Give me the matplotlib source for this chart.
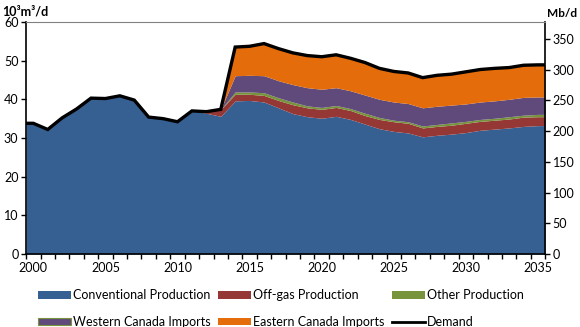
import numpy as np
import matplotlib
matplotlib.use("Agg")
import matplotlib.pyplot as plt
from matplotlib.patches import Patch
from matplotlib.lines import Line2D

plt.rcParams['font.family'] = ['Lato', 'DejaVu Sans']

years = np.arange(2000, 2036)
conventional = [33.8, 32.2, 35.2, 37.5, 40.3, 40.2, 40.9, 39.8, 35.4, 35.0, 34.2, 37.0, 36.4, 35.6,
                39.6, 39.7, 39.3, 37.8, 36.3, 35.5, 35.1, 35.6, 34.8, 33.6, 32.4, 31.7, 31.3, 30.3,
                30.7, 31.0, 31.4, 32.0, 32.3, 32.6, 33.0, 33.2]
offgas = [0]*12 + [0.4, 1.8,
          1.7, 1.6, 1.7, 1.9, 2.3, 2.3, 2.3, 2.3, 2.3, 2.2, 2.4, 2.5, 2.5, 2.3,
          2.3, 2.3, 2.4, 2.3, 2.3, 2.3, 2.4, 2.3]
other = [0]*14 + [0.6, 0.6, 0.7, 0.7, 0.7, 0.5, 0.5, 0.5, 0.5, 0.6, 0.5, 0.4, 0.4, 0.5,
                  0.5, 0.6, 0.5, 0.5, 0.5, 0.6, 0.5, 0.6]
western = [0]*14 + [4.2, 4.3, 4.4, 4.4, 4.5, 4.7, 4.7, 4.6, 4.6, 4.7, 4.7, 4.7, 4.7, 4.7,
                    4.7, 4.6, 4.5, 4.5, 4.5, 4.5, 4.6, 4.5]
eastern = [0]*14 + [7.4, 7.5, 8.3, 8.3, 8.2, 8.3, 8.4, 8.5, 8.4, 8.4, 8.0, 7.9, 7.9, 7.8,
                    8.0, 8.0, 8.3, 8.4, 8.4, 8.3, 8.3, 8.3]
demand = [33.8, 32.2, 35.2, 37.5, 40.3, 40.2, 40.9, 39.8, 35.4, 35.0, 34.2, 37.0, 36.8, 37.4,
          53.5, 53.7, 54.4, 53.1, 52.0, 51.3, 51.0, 51.5, 50.6, 49.5, 48.0, 47.2, 46.8, 45.6,
          46.2, 46.5, 47.1, 47.7, 48.0, 48.2, 48.8, 48.9]

names = ["Conventional Production", "Off-gas Production", "Other Production",
         "Western Canada Imports", "Eastern Canada Imports"]
colors = ["#376092", "#953735", "#77933C", "#604A7B", "#E46C0A"]
year_labels = [2000, 2005, 2010, 2015, 2020, 2025, 2030, 2035]
right_ticks = [0, 50, 100, 150, 200, 250, 300, 350]
BBL_PER_M3 = 6.29

# Excel-style area: extend half a category at each edge
xp = np.r_[years[0] - 0.5, years, years[-1] + 0.5]
def pad(a):
    return np.pad(np.asarray(a, float), 1, mode='edge')

fig = plt.figure(figsize=(5.8, 3.27), dpi=100)
ax = fig.add_axes([0.045, 0.223, 0.895, 0.71])

series = [conventional, offgas, other, western, eastern]
base = np.zeros(len(xp))
for vals, c in zip(series, colors):
    top = base + pad(vals)
    ax.fill_between(xp, base, top, color=c, linewidth=0)
    base = top
ax.plot(xp, pad(demand), color='black', lw=2.4, solid_joinstyle='miter')

ax.set_xlim(1999.5, 2035.5)
ax.set_ylim(0, 60)
ax.set_yticks(range(0, 61, 10))
ax.set_xticks(year_labels)
ax.set_xticklabels([str(y) for y in year_labels])
ax.set_xticks(np.r_[years - 0.5, years[-1] + 0.5], minor=True)
ax.tick_params(axis='x', which='major', length=0, pad=6, labelsize=9)
ax.tick_params(axis='x', which='minor', length=3.5, width=1, direction='out')
ax.tick_params(axis='y', length=3.5, width=1, direction='out', labelsize=9, pad=2)

for s in ['left', 'bottom', 'right']:
    ax.spines[s].set_linewidth(1.2)
    ax.spines[s].set_color('black')
ax.spines['top'].set_color('#808080')
ax.spines['top'].set_linewidth(0.8)

ax2 = ax.twinx()
ax2.set_ylim(0, 60 * BBL_PER_M3)
ax2.set_yticks(right_ticks)
ax2.tick_params(axis='y', length=3.5, width=1, direction='out', labelsize=9, pad=2)
for s in ax2.spines.values():
    s.set_visible(False)

fig.text(0.003, 1 - 15/327, "10³m³/d", fontsize=9, fontweight='bold', ha='left', va='baseline')
fig.text(0.995, 1 - 17/327, "Mb/d", fontsize=8.5, fontweight='bold', ha='right', va='baseline')

handles = [Patch(facecolor=colors[0]), Patch(facecolor=colors[3], edgecolor=colors[2], linewidth=0.8),
           Patch(facecolor=colors[1]), Patch(facecolor=colors[4]),
           Patch(facecolor=colors[2]), Line2D([], [], color='black', lw=2)]
labels = [names[0], names[3], names[1], names[4], names[2], "Demand"]
fig.legend(handles, labels, loc='lower center', bbox_to_anchor=(0.485, -0.037), ncol=3,
           frameon=False, fontsize=9, handlelength=2.6, handleheight=0.55,
           handletextpad=0.2, columnspacing=0.6, labelspacing=1.15)

fig.savefig("out.png", dpi=100)
